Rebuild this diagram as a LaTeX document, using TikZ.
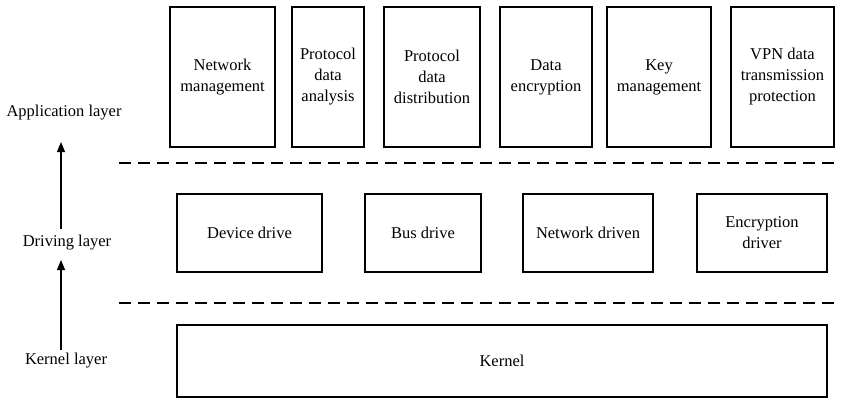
\documentclass[tikz,border=0pt]{standalone}
\usepackage{fontspec}
\setmainfont{Liberation Serif}
\newfontfamily\tms{Liberation Serif}
\usetikzlibrary{arrows.meta}
\tikzset{
  box/.style={draw, line width=1.1pt, align=center, inner sep=0pt, font=\tms\fontsize{16.5}{21}\selectfont},
  lbl/.style={inner sep=0pt, font=\tms\fontsize{16.5}{21}\selectfont},
  sep/.style={dash pattern=on 12pt off 7pt, line width=1.1pt},
  up/.style={line width=1.1pt, -{Triangle[width=8pt,length=10pt]}}
}
\begin{document}
\begin{tikzpicture}[x=1pt,y=-1pt]
\useasboundingbox (0,0) rectangle (841,399);
% application layer
\node[box, minimum width=105pt, minimum height=140pt] (nm) at (222.5,77) {Network\\management};
\node[box, minimum width=72pt, minimum height=140pt] (pda) at (328,77) {Protocol\\data\\analysis};
\node[box, minimum width=96pt, minimum height=140pt] (pdd) at (432,77) {Protocol\\data\\distribution};
\node[box, minimum width=92pt, minimum height=140pt] (de) at (546,77) {Data\\encryption};
\node[box, minimum width=104pt, minimum height=140pt] (km) at (659,77) {Key\\management};
\node[box, minimum width=103pt, minimum height=140pt] (vpn) at (782.5,77) {VPN data\\transmission\\protection};
% driving layer
\node[box, minimum width=145pt, minimum height=78pt] (dd) at (249.5,233) {Device drive};
\node[box, minimum width=116pt, minimum height=78pt] (bd) at (423,233) {Bus drive};
\node[box, minimum width=130pt, minimum height=78pt] (nd) at (588,233) {Network driven};
\node[box, minimum width=130pt, minimum height=78pt] (ed) at (762,233) {Encryption\\driver};
% kernel
\node[box, minimum width=650pt, minimum height=72pt] (k) at (502,361) {Kernel};
% separators
\coordinate (s1a) at (119,163); \coordinate (s1b) at (841,163);
\coordinate (s2a) at (119,303); \coordinate (s2b) at (841,303);
\draw[sep] (s1a) -- (s1b);
\draw[sep] (s2a) -- (s2b);
% layer labels
\node[lbl] (app) at (64,113) {Application layer};
\node[lbl] (drv) at (67,243) {Driving layer};
\node[lbl] (ker) at (66,361) {Kernel layer};
\coordinate (a1s) at (61,229); \coordinate (a1e) at (61,142);
\coordinate (a2s) at (61,350); \coordinate (a2e) at (61,260);
\draw[up] (a1s) -- (a1e);
\draw[up] (a2s) -- (a2e);
\end{tikzpicture}
\end{document}
